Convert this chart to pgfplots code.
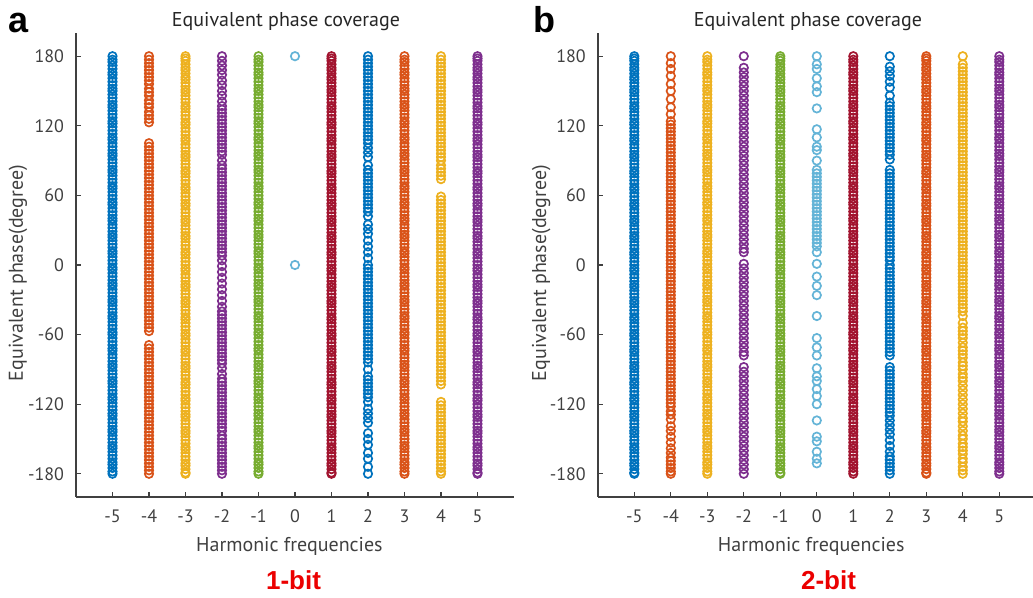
\documentclass[border=0pt]{standalone}
\usepackage{pgfplots}
\usepackage{pgfplotstable}
\pgfplotsset{compat=1.18}
\usepackage{fontspec}
\setmainfont{PT Sans}
\newfontfamily\arialb{Liberation Sans}[BoldFont={Liberation Sans Bold}]
\definecolor{c1}{RGB}{0,114,189}
\definecolor{c2}{RGB}{217,83,25}
\definecolor{c3}{RGB}{237,177,32}
\definecolor{c4}{RGB}{126,47,142}
\definecolor{c5}{RGB}{119,172,48}
\definecolor{c6}{RGB}{100,180,215}
\definecolor{c7}{RGB}{162,20,47}
\definecolor{axgray}{RGB}{64,64,64}
\definecolor{bitred}{RGB}{235,0,0}

% dense columns
\pgfplotstableread[header=false,row sep=\\]{
180\\177\\175\\172\\169\\166\\164\\161\\158\\155\\152\\150\\147\\144\\141\\138\\136\\133\\130\\127\\124\\122\\119\\116\\113\\110\\108\\105\\102\\99\\96\\94\\91\\88\\85\\82\\80\\77\\74\\71\\68\\66\\63\\60\\57\\54\\52\\49\\46\\43\\40\\38\\35\\32\\29\\26\\24\\21\\18\\15\\12\\10\\7\\4\\1\\-2\\-4\\-7\\-10\\-13\\-16\\-18\\-21\\-24\\-27\\-30\\-32\\-35\\-38\\-41\\-44\\-46\\-49\\-52\\-55\\-58\\-60\\-63\\-66\\-69\\-72\\-74\\-77\\-80\\-83\\-86\\-88\\-91\\-94\\-97\\-100\\-102\\-105\\-108\\-111\\-114\\-116\\-119\\-122\\-125\\-128\\-130\\-133\\-136\\-139\\-142\\-144\\-147\\-150\\-153\\-156\\-158\\-161\\-164\\-167\\-170\\-172\\-175\\-178\\-180\\
}\fullA
\pgfplotstableread[header=false,row sep=\\]{
180\\178\\176\\173\\170\\168\\165\\162\\160\\157\\154\\151\\149\\146\\143\\140\\137\\135\\132\\129\\126\\123\\121\\118\\115\\112\\109\\107\\104\\101\\98\\95\\93\\90\\87\\84\\81\\79\\76\\73\\70\\67\\65\\62\\59\\56\\53\\51\\48\\45\\42\\39\\37\\34\\31\\28\\25\\23\\20\\17\\14\\11\\9\\6\\3\\0\\-3\\-5\\-8\\-11\\-14\\-17\\-19\\-22\\-25\\-28\\-31\\-33\\-36\\-39\\-42\\-45\\-47\\-50\\-53\\-56\\-59\\-61\\-64\\-67\\-70\\-73\\-75\\-78\\-81\\-84\\-87\\-89\\-92\\-95\\-98\\-101\\-103\\-106\\-109\\-112\\-115\\-117\\-120\\-123\\-126\\-129\\-131\\-134\\-137\\-140\\-143\\-145\\-148\\-151\\-154\\-157\\-159\\-162\\-165\\-168\\-171\\-173\\-176\\-179\\-180\\
}\fullB
% panel a special columns
\pgfplotstableread[header=false,row sep=\\]{
180\\177\\174\\171\\168\\165\\162\\159\\156\\152\\149\\146\\142\\139\\136\\132\\129\\126\\123\\
105\\102\\99\\96\\93\\90\\87\\84\\81\\78\\75\\72\\69\\66\\63\\60\\57\\54\\51\\48\\45\\42\\39\\36\\33\\30\\27\\24\\21\\18\\15\\12\\9\\6\\3\\0\\-3\\-6\\-9\\-12\\-15\\-18\\-21\\-24\\-27\\-30\\-33\\-36\\-39\\-42\\-45\\-48\\-51\\-54\\-57\\
-69\\-72\\-75\\-78\\-81\\-84\\-87\\-90\\-93\\-96\\-99\\-102\\-105\\-108\\-111\\-114\\-117\\-120\\-123\\-126\\-129\\-132\\-135\\-138\\-141\\-144\\-147\\-150\\-153\\-156\\-159\\-162\\-165\\-168\\-171\\-174\\-177\\-180\\
}\aMfour
\pgfplotstableread[header=false,row sep=\\]{
180\\176\\172\\168\\164\\159\\155\\150\\146\\141\\137\\134\\131\\128\\125\\122\\119\\116\\113\\110\\107\\104\\101\\98\\95\\90\\86\\83\\80\\77\\74\\71\\68\\65\\62\\59\\56\\53\\50\\47\\44\\41\\38\\35\\32\\29\\26\\23\\20\\17\\14\\11\\8\\4\\-1\\-6\\-11\\-16\\-21\\-26\\-31\\-36\\-40\\-43\\-46\\-49\\-52\\-55\\-58\\-61\\-64\\-67\\-70\\-73\\-76\\-79\\-82\\-85\\-89\\-94\\-98\\-101\\-104\\-107\\-110\\-113\\-116\\-119\\-122\\-125\\-128\\-131\\-134\\-137\\-140\\-143\\-147\\-150\\-153\\-156\\-159\\-162\\-165\\-168\\-171\\-174\\-177\\-180\\
}\aMtwo
\pgfplotstableread[header=false,row sep=\\]{
180\\0\\
}\aZero
\pgfplotstableread[header=false,row sep=\\]{
180\\177\\174\\171\\168\\165\\162\\159\\156\\153\\150\\147\\144\\141\\138\\135\\132\\129\\126\\123\\120\\117\\114\\111\\108\\105\\101\\97\\93\\86\\82\\79\\76\\73\\70\\67\\64\\61\\58\\55\\52\\49\\46\\42\\35\\31\\27\\21\\16\\11\\6\\0\\-3\\-6\\-9\\-12\\-15\\-18\\-21\\-24\\-27\\-30\\-33\\-36\\-39\\-42\\-45\\-48\\-51\\-54\\-57\\-60\\-63\\-66\\-69\\-72\\-75\\-78\\-81\\-84\\-90\\-96\\-99\\-102\\-105\\-108\\-111\\-114\\-118\\-124\\-128\\-132\\-136\\-145\\-150\\-155\\-162\\-167\\-174\\-180\\
}\aPtwo
\pgfplotstableread[header=false,row sep=\\]{
180\\177\\174\\171\\168\\165\\162\\159\\156\\153\\150\\147\\144\\141\\138\\135\\132\\129\\126\\123\\120\\117\\114\\111\\108\\105\\102\\99\\96\\93\\90\\86\\83\\80\\77\\74\\
59\\56\\53\\50\\47\\44\\41\\38\\35\\32\\29\\26\\23\\20\\17\\14\\11\\8\\5\\2\\-1\\-4\\-7\\-10\\-13\\-16\\-19\\-22\\-25\\-28\\-31\\-34\\-37\\-40\\-43\\-46\\-49\\-52\\-55\\-58\\-61\\-64\\-67\\-70\\-73\\-76\\-79\\-82\\-85\\-88\\-91\\-94\\-97\\-100\\-103\\
-118\\-121\\-124\\-127\\-130\\-133\\-136\\-139\\-142\\-145\\-148\\-151\\-154\\-157\\-160\\-163\\-166\\-169\\-172\\-175\\-178\\-180\\
}\aPfour
% panel b special columns
\pgfplotstableread[header=false,row sep=\\]{
180\\174\\169\\163\\156\\150\\143\\136\\130\\124\\121\\118\\115\\112\\109\\106\\103\\100\\97\\94\\91\\88\\85\\82\\79\\76\\73\\70\\67\\64\\61\\58\\55\\52\\49\\46\\43\\40\\37\\34\\31\\28\\25\\22\\19\\16\\13\\10\\7\\4\\1\\-2\\-5\\-8\\-11\\-14\\-17\\-20\\-23\\-26\\-29\\-32\\-35\\-38\\-41\\-44\\-47\\-50\\-53\\-56\\-59\\-62\\-65\\-68\\-71\\-74\\-77\\-80\\-83\\-86\\-89\\-92\\-95\\-98\\-101\\-104\\-107\\-110\\-113\\-116\\-119\\-122\\-126\\-129\\-133\\-139\\-143\\-148\\-153\\-158\\-162\\-166\\-169\\-172\\-175\\-178\\-180\\
}\bMfour
\pgfplotstableread[header=false,row sep=\\]{
180\\170\\166\\162\\158\\154\\150\\146\\142\\138\\134\\130\\126\\122\\118\\114\\110\\106\\102\\98\\94\\90\\86\\82\\78\\74\\70\\66\\62\\58\\54\\50\\46\\42\\38\\34\\30\\26\\22\\18\\14\\11\\
1\\-3\\-7\\-11\\-15\\-19\\-23\\-27\\-31\\-35\\-39\\-43\\-47\\-51\\-55\\-59\\-63\\-67\\-71\\-75\\-78\\
-88\\-92\\-96\\-100\\-104\\-108\\-112\\-116\\-120\\-124\\-128\\-132\\-136\\-140\\-144\\-148\\-152\\-156\\-160\\-164\\-168\\-172\\-176\\-180\\
}\bMtwo
\pgfplotstableread[header=false,row sep=\\]{
180\\173\\169\\161\\154\\149\\135\\117\\110\\102\\99\\90\\82\\79\\76\\73\\70\\67\\64\\61\\58\\55\\52\\49\\46\\43\\40\\37\\34\\31\\28\\25\\22\\19\\16\\11\\1\\-10\\-18\\-26\\-44\\-63\\-71\\-78\\-89\\-96\\-100\\-107\\-113\\-120\\-134\\-148\\-152\\-161\\-167\\-171\\
}\bZero
\pgfplotstableread[header=false,row sep=\\]{
180\\171\\167\\163\\158\\153\\146\\140\\137\\134\\131\\128\\125\\122\\119\\116\\113\\110\\107\\104\\101\\98\\95\\91\\82\\79\\76\\73\\70\\67\\64\\61\\58\\55\\52\\49\\46\\43\\40\\37\\34\\31\\28\\25\\22\\19\\16\\13\\10\\7\\4\\0\\-3\\-6\\-9\\-12\\-15\\-18\\-21\\-24\\-27\\-30\\-33\\-36\\-39\\-42\\-45\\-48\\-51\\-54\\-57\\-60\\-63\\-66\\-69\\-72\\-75\\-78\\
-88\\-91\\-94\\-97\\-100\\-103\\-106\\-109\\-112\\-115\\-118\\-121\\-124\\-127\\-130\\-134\\-138\\-142\\-146\\-151\\-156\\-161\\-165\\-168\\-171\\-174\\-177\\-180\\
}\bPtwo
\pgfplotstableread[header=false,row sep=\\]{
180\\173\\170\\167\\164\\161\\158\\155\\152\\149\\146\\143\\140\\137\\134\\131\\128\\125\\122\\119\\116\\113\\110\\107\\104\\101\\98\\95\\92\\89\\86\\83\\80\\77\\74\\71\\68\\65\\62\\59\\56\\53\\50\\47\\44\\41\\38\\35\\32\\29\\26\\23\\20\\17\\14\\11\\8\\5\\2\\-1\\-4\\-7\\-10\\-13\\-16\\-19\\-22\\-25\\-28\\-31\\-34\\-37\\-40\\-44\\-50\\-54\\-57\\-60\\-63\\-67\\-71\\-74\\-77\\-80\\-84\\-87\\-90\\-94\\-97\\-100\\-104\\-108\\-112\\-116\\-120\\-124\\-128\\-132\\-135\\-139\\-143\\-147\\-150\\-154\\-157\\-160\\-163\\-167\\-170\\-174\\-177\\-180\\
}\bPfour

\pgfplotsset{
  phasestyle/.style={
    scale only axis, width=219pt, height=232pt,
    xmin=-6, xmax=6, ymin=-200, ymax=200,
    axis x line*=bottom, axis y line*=left,
    axis line style={axgray, line width=0.8pt, -},
    tick align=inside, major tick length=2.5pt,
    tick style={axgray, line width=0.6pt},
    xtick={-5,-4,-3,-2,-1,0,1,2,3,4,5},
    xticklabels={-5,-4,-3,-2,-1,0,1,2,3,4,5},
    ytick={-180,-120,-60,0,60,120,180},
    yticklabels={-180,-120,-60,0,60,120,180},
    ticklabel style={font=\fontsize{9}{9}\selectfont, text=axgray},
    xticklabel style={anchor=base, yshift=-13pt},
    yticklabel style={anchor=east, xshift=-2.5pt},
    clip=false,
    every axis plot/.append style={only marks, mark=o, mark size=2.1pt, mark options={line width=0.85pt}},
  },
}

\begin{document}
\begin{tikzpicture}
\useasboundingbox (0,0) rectangle (516.5pt,299pt);
% ---------- panel a ----------
\begin{axis}[phasestyle, at={(38pt,50.5pt)}, anchor=south west]
\addplot[c1] table[x expr=-5, y index=0] {\fullA};
\addplot[c2] table[x expr=-4, y index=0] {\aMfour};
\addplot[c3] table[x expr=-3, y index=0] {\fullB};
\addplot[c4] table[x expr=-2, y index=0] {\aMtwo};
\addplot[c5] table[x expr=-1, y index=0] {\fullA};
\addplot[c6] table[x expr=0, y index=0] {\aZero};
\addplot[c7] table[x expr=1, y index=0] {\fullB};
\addplot[c1] table[x expr=2, y index=0] {\aPtwo};
\addplot[c2] table[x expr=3, y index=0] {\fullA};
\addplot[c3] table[x expr=4, y index=0] {\aPfour};
\addplot[c4] table[x expr=5, y index=0] {\fullB};
\end{axis}
% ---------- panel b ----------
\begin{axis}[phasestyle, at={(298.9pt,50.5pt)}, anchor=south west]
\addplot[c1] table[x expr=-5, y index=0] {\fullB};
\addplot[c2] table[x expr=-4, y index=0] {\bMfour};
\addplot[c3] table[x expr=-3, y index=0] {\fullA};
\addplot[c4] table[x expr=-2, y index=0] {\bMtwo};
\addplot[c5] table[x expr=-1, y index=0] {\fullB};
\addplot[c6] table[x expr=0, y index=0] {\bZero};
\addplot[c7] table[x expr=1, y index=0] {\fullA};
\addplot[c1] table[x expr=2, y index=0] {\bPtwo};
\addplot[c2] table[x expr=3, y index=0] {\fullB};
\addplot[c3] table[x expr=4, y index=0] {\bPfour};
\addplot[c4] table[x expr=5, y index=0] {\fullA};
\end{axis}
% ---------- texts ----------
\node[anchor=base, font=\fontsize{10}{10}\selectfont, text=black!85] at (143pt,285.5pt) {Equivalent phase coverage};
\node[anchor=base, font=\fontsize{10}{10}\selectfont, text=black!85] at (404pt,285.5pt) {Equivalent phase coverage};
\node[anchor=base, font=\fontsize{10}{10}\selectfont, text=axgray] at (144.7pt,23pt) {Harmonic frequencies};
\node[anchor=base, font=\fontsize{10}{10}\selectfont, text=axgray] at (405.6pt,23pt) {Harmonic frequencies};
\node[anchor=base, rotate=90, font=\fontsize{10}{10}\selectfont, text=axgray] at (11.5pt,162.5pt) {Equivalent phase(degree)};
\node[anchor=base, rotate=90, font=\fontsize{10}{10}\selectfont, text=axgray] at (273pt,162.5pt) {Equivalent phase(degree)};
\node[anchor=base west, inner sep=0pt, font=\arialb\bfseries\fontsize{18}{18}\selectfont] at (4pt,282.5pt) {a};
\node[anchor=base west, inner sep=0pt, font=\arialb\bfseries\fontsize{18}{18}\selectfont] at (266.5pt,282.5pt) {b};
\node[anchor=base, inner sep=0pt, font=\arialb\bfseries\fontsize{13}{13}\selectfont, text=bitred] at (146.75pt,4pt) {1-bit};
\node[anchor=base, inner sep=0pt, font=\arialb\bfseries\fontsize{13}{13}\selectfont, text=bitred] at (414.25pt,4pt) {2-bit};
\end{tikzpicture}
\end{document}
